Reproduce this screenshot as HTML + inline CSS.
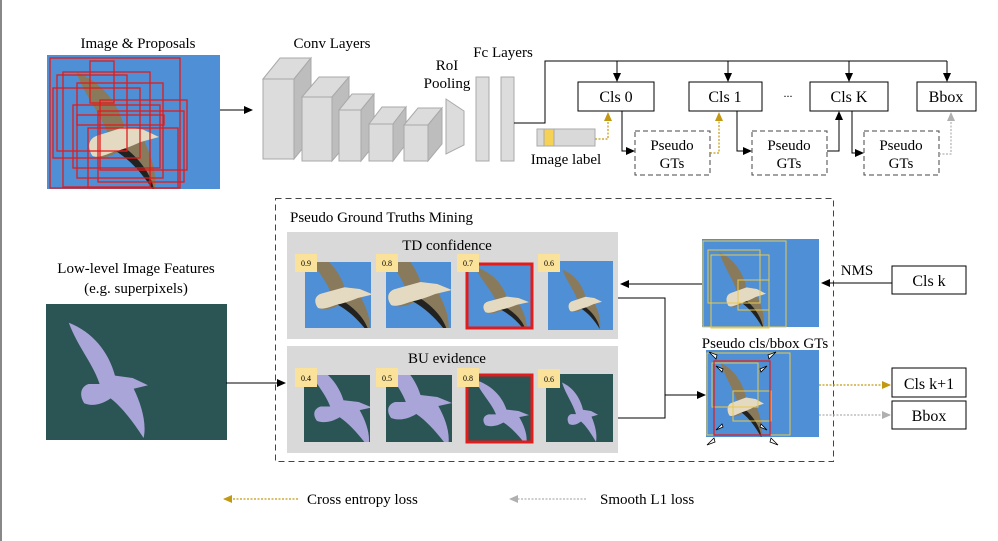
<!DOCTYPE html>
<html><head><meta charset="utf-8"><style>
html,body{margin:0;padding:0;background:#fff;}
svg{display:block;font-family:"Liberation Serif",serif;}
</style></head><body>
<svg width="998" height="541" viewBox="0 0 998 541" xmlns="http://www.w3.org/2000/svg">
<defs>
<marker id="ab" markerWidth="10" markerHeight="10" refX="8" refY="4" orient="auto" markerUnits="userSpaceOnUse"><path d="M0,0 L9,4 L0,8 Z" fill="#000"/></marker>
<marker id="ag" markerWidth="10" markerHeight="10" refX="8" refY="4" orient="auto" markerUnits="userSpaceOnUse"><path d="M0,0 L9,4 L0,8 Z" fill="#c29a12"/></marker>
<marker id="ay" markerWidth="10" markerHeight="10" refX="8" refY="4" orient="auto" markerUnits="userSpaceOnUse"><path d="M0,0 L9,4 L0,8 Z" fill="#b0b0b0"/></marker>
<path id="silp" d="M8,4 C30,12 44,28 50,48 L66,50 L80,56 L67,59 C74,72 79,88 76,100 C66,86 56,74 46,67 C38,72 30,74 22,71 C17,64 19,57 26,55 L36,55 C30,38 16,24 8,4 Z"/>
<g id="sil"><use href="#silp" fill="#a9a5d8"/></g>
<g id="photo">
<use href="#silp" fill="#8a7a5c"/>
<path d="M46,62 C60,70 74,85 76,100 C66,86 56,75 42,67 Z" fill="#222220"/>
<path d="M26,55 L50,48 L66,50 L80,56 L64,60 C55,64 48,66 40,68 C32,71 26,73 22,71 C17,64 19,57 26,55 Z" fill="#e4dac2"/>
</g>
</defs>
<rect x="0" y="0" width="2" height="541" fill="#888"/>

<!-- Image & proposals -->
<text x="138" y="48" font-size="15" text-anchor="middle">Image &amp; Proposals</text>
<svg x="47" y="55" width="173" height="134" viewBox="0 0 173 134">
<rect width="173" height="134" fill="#4f8fd6"/>
<use href="#photo" transform="translate(20,12) scale(1.15,1.25)"/>
</svg>
<g fill="none" stroke="#e21b1b" stroke-width="1.3">
<rect x="50" y="58" width="130" height="130"/><rect x="90" y="61" width="24" height="42"/>
<rect x="63" y="72" width="87" height="115"/><rect x="57" y="75" width="70" height="76"/>
<rect x="77" y="83" width="86" height="95"/><rect x="53" y="88" width="87" height="70"/>
<rect x="100" y="100" width="87" height="70"/><rect x="73" y="105" width="87" height="63"/>
<rect x="77" y="115" width="87" height="10"/><rect x="98" y="111" width="86" height="71"/>
<rect x="88" y="128" width="90" height="60"/>
</g>
<line x1="220" y1="110" x2="252" y2="110" stroke="#000" stroke-width="1" marker-end="url(#ab)"/>

<!-- Conv layers -->
<text x="332" y="48" font-size="15" text-anchor="middle">Conv Layers</text>
<g fill="#dcdcdc" stroke="#a9a9a9" stroke-width="1">
<rect x="263" y="79" width="31" height="80"/><path d="M263,79 L280,58 L311,58 L294,79 Z"/><path d="M294,79 L311,58 L311,138 L294,159 Z" fill="#bdbdbd"/>
<rect x="302" y="97" width="30" height="64"/><path d="M302,97 L319,77 L349,77 L332,97 Z"/><path d="M332,97 L349,77 L349,141 L332,161 Z" fill="#bdbdbd"/>
<rect x="339" y="110" width="22" height="51"/><path d="M339,110 L352,94 L374,94 L361,110 Z"/><path d="M361,110 L374,94 L374,145 L361,161 Z" fill="#bdbdbd"/>
<rect x="369" y="124" width="24" height="37"/><path d="M369,124 L382,107 L406,107 L393,124 Z"/><path d="M393,124 L406,107 L406,144 L393,161 Z" fill="#bdbdbd"/>
<rect x="404" y="125" width="24" height="36"/><path d="M404,125 L418,108 L442,108 L428,125 Z"/><path d="M428,125 L442,108 L442,144 L428,161 Z" fill="#bdbdbd"/>
<path d="M446,99 L464,111 L464,145 L446,154 Z"/>
<rect x="476" y="77" width="13" height="84"/><rect x="501" y="77" width="13" height="84"/>
</g>
<text x="447" y="70" font-size="15" text-anchor="middle">RoI</text>
<text x="447" y="88" font-size="15" text-anchor="middle">Pooling</text>
<text x="503" y="57" font-size="15" text-anchor="middle">Fc Layers</text>

<!-- heads -->
<polyline points="514,123 545,123 545,61 947,61" fill="none" stroke="#000" stroke-width="1"/>
<g stroke="#000" stroke-width="1" marker-end="url(#ab)">
<line x1="617" y1="61" x2="617" y2="81"/><line x1="728" y1="61" x2="728" y2="81"/>
<line x1="849" y1="61" x2="849" y2="81"/><line x1="947" y1="61" x2="947" y2="81"/>
</g>
<g fill="#fff" stroke="#000" stroke-width="1">
<rect x="578" y="82" width="76" height="29"/><rect x="689" y="82" width="73" height="29"/>
<rect x="810" y="82" width="78" height="29"/><rect x="917" y="82" width="59" height="29"/>
</g>
<g font-size="16" text-anchor="middle">
<text x="616" y="102">Cls 0</text><text x="725" y="102">Cls 1</text>
<text x="849" y="102">Cls K</text><text x="946" y="102">Bbox</text>
<text x="788" y="97" font-size="12">...</text>
</g>
<g fill="#fff" stroke="#444" stroke-width="1" stroke-dasharray="5,3">
<rect x="635" y="131" width="75" height="44"/><rect x="752" y="131" width="75" height="44"/><rect x="864" y="131" width="75" height="44"/>
</g>
<g font-size="15" text-anchor="middle">
<text x="672" y="150">Pseudo</text><text x="672" y="168">GTs</text>
<text x="789" y="150">Pseudo</text><text x="789" y="168">GTs</text>
<text x="901" y="150">Pseudo</text><text x="901" y="168">GTs</text>
</g>
<rect x="537" y="129" width="58" height="17" fill="#d9d9d9" stroke="#aaa"/>
<rect x="544" y="129" width="10" height="17" fill="#f5d155" stroke="#aaa"/>
<text x="566" y="164" font-size="15" text-anchor="middle">Image label</text>
<g fill="none" stroke-width="1.2" stroke-dasharray="2,1.5">
<polyline points="595,139 608,139 608,113" stroke="#c29a12" marker-end="url(#ag)"/>
<polyline points="710,153 719,153 719,113" stroke="#c29a12" marker-end="url(#ag)"/>
<polyline points="939,154 951,154 951,113" stroke="#b0b0b0" marker-end="url(#ay)"/>
</g>
<g fill="none" stroke="#000" stroke-width="1">
<polyline points="622,111 622,151 634,151" marker-end="url(#ab)"/>
<polyline points="737,111 737,151 751,151" marker-end="url(#ab)"/>
<polyline points="827,151 839,151 839,112" marker-end="url(#ab)"/>
<polyline points="852,111 852,153 863,153" marker-end="url(#ab)"/>
</g>

<!-- mining box -->
<rect x="275.5" y="198.5" width="558" height="263" fill="none" stroke="#444" stroke-dasharray="6,4"/>
<text x="290" y="222" font-size="15">Pseudo Ground Truths Mining</text>
<rect x="287" y="232" width="331" height="107" fill="#d9d9d9"/>
<rect x="287" y="346" width="331" height="107" fill="#d9d9d9"/>
<text x="447" y="250" font-size="15" text-anchor="middle">TD confidence</text>
<text x="447" y="363" font-size="15" text-anchor="middle">BU evidence</text>
<!-- TD images -->
<svg x="305" y="262" width="66" height="66" viewBox="0 0 66 66"><rect width="66" height="66" fill="#4f8fd6"/><use href="#photo" transform="translate(-8,-18) scale(0.95,0.9)"/></svg>
<svg x="386" y="262" width="65" height="66" viewBox="0 0 65 66"><rect width="65" height="66" fill="#4f8fd6"/><use href="#photo" transform="translate(-18,-28) scale(1.05,1.0)"/></svg>
<svg x="467" y="264" width="65" height="64" viewBox="0 0 65 64"><rect width="65" height="64" fill="#4f8fd6"/><use href="#photo" transform="translate(2,0) scale(0.75,0.68)"/></svg>
<rect x="467" y="264" width="65" height="64" fill="none" stroke="#e21b1b" stroke-width="3"/>
<svg x="548" y="261" width="65" height="69" viewBox="0 0 65 69"><rect width="65" height="69" fill="#4f8fd6"/><use href="#photo" transform="translate(10,6) scale(0.55,0.62)"/></svg>
<!-- BU images -->
<svg x="304" y="375" width="66" height="67" viewBox="0 0 66 67"><rect width="66" height="67" fill="#2b5455"/><use href="#sil" transform="translate(-8,-18) scale(0.95,0.9)"/></svg>
<svg x="386" y="375" width="66" height="67" viewBox="0 0 66 67"><rect width="66" height="67" fill="#2b5455"/><use href="#sil" transform="translate(-18,-28) scale(1.05,1.0)"/></svg>
<svg x="467" y="375" width="65" height="67" viewBox="0 0 65 67"><rect width="65" height="67" fill="#2b5455"/><use href="#sil" transform="translate(2,2) scale(0.75,0.68)"/></svg>
<rect x="467" y="375" width="65" height="67" fill="none" stroke="#e21b1b" stroke-width="3"/>
<svg x="546" y="374" width="67" height="68" viewBox="0 0 67 68"><rect width="67" height="68" fill="#2b5455"/><use href="#sil" transform="translate(12,6) scale(0.5,0.62)"/></svg>
<g fill="#fbe29a">
<rect x="295" y="254" width="22" height="18"/><rect x="376" y="254" width="22" height="18"/><rect x="457" y="254" width="22" height="18"/><rect x="538" y="254" width="22" height="18"/>
<rect x="295" y="368" width="22" height="19"/><rect x="376" y="368" width="22" height="19"/><rect x="457" y="368" width="22" height="19"/><rect x="538" y="369" width="22" height="19"/>
</g>
<g font-size="8" text-anchor="middle">
<text x="306" y="266">0.9</text><text x="387" y="266">0.8</text><text x="468" y="266">0.7</text><text x="549" y="266">0.6</text>
<text x="306" y="381">0.4</text><text x="387" y="381">0.5</text><text x="468" y="381">0.8</text><text x="549" y="382">0.6</text>
</g>

<!-- right images -->
<svg x="702" y="239" width="117" height="88" viewBox="0 0 117 88"><rect width="117" height="88" fill="#4f8fd6"/><use href="#photo" transform="translate(12,10) scale(0.65,0.8)"/></svg>
<g fill="none" stroke="#e8c84a" stroke-width="1"><rect x="703" y="241" width="83" height="86"/><rect x="708" y="250" width="52" height="53"/><rect x="711" y="255" width="58" height="73"/><rect x="738" y="280" width="31" height="30"/></g>
<text x="765" y="348" font-size="15" text-anchor="middle">Pseudo cls/bbox GTs</text>
<svg x="706" y="350" width="113" height="87" viewBox="0 0 113 87"><rect width="113" height="87" fill="#4f8fd6"/><use href="#photo" transform="translate(10,10) scale(0.6,0.78)"/></svg>
<g fill="none" stroke="#e8c84a" stroke-width="1"><rect x="707" y="353" width="83" height="82"/><rect x="712" y="363" width="46" height="44"/><rect x="733" y="391" width="38" height="30"/></g>
<rect x="714" y="361" width="56" height="74" fill="none" stroke="#e21b1b" stroke-width="1.2"/>
<g fill="#fff" stroke="#000" stroke-width="0.8">
<path d="M709,352 l7,7 l1,-4 z"/><path d="M776,352 l-7,7 l-1,-4 z"/>
<path d="M716,366 l6,6 l1,-3 z"/><path d="M767,366 l-6,6 l-1,-3 z"/>
<path d="M716,430 l6,-6 l1,3 z"/><path d="M767,430 l-6,-6 l-1,3 z"/>
<path d="M707,445 l7,-7 l1,4 z"/><path d="M778,445 l-7,-7 l-1,4 z"/>
</g>
<g fill="none" stroke="#000" stroke-width="1">
<line x1="702" y1="284" x2="621" y2="284" marker-end="url(#ab)"/>
<polyline points="618,298 665,298 665,418 618,418"/>
<line x1="665" y1="395" x2="705" y2="395" marker-end="url(#ab)"/>
<line x1="892" y1="283" x2="822" y2="283" marker-end="url(#ab)"/>
</g>
<text x="857" y="275" font-size="15" text-anchor="middle">NMS</text>
<g fill="#fff" stroke="#000" stroke-width="1">
<rect x="892" y="266" width="74" height="28"/><rect x="892" y="368" width="74" height="29"/><rect x="892" y="401" width="74" height="28"/>
</g>
<g font-size="16" text-anchor="middle">
<text x="929" y="286">Cls k</text><text x="929" y="389">Cls k+1</text><text x="929" y="421">Bbox</text>
</g>
<line x1="819" y1="385" x2="890" y2="385" stroke="#c29a12" stroke-width="1.2" stroke-dasharray="2,1.5" marker-end="url(#ag)"/>
<line x1="819" y1="415" x2="890" y2="415" stroke="#b0b0b0" stroke-width="1.2" stroke-dasharray="2,1.5" marker-end="url(#ay)"/>

<!-- low-level -->
<text x="136" y="273" font-size="15" text-anchor="middle">Low-level Image Features</text>
<text x="136" y="293" font-size="15" text-anchor="middle">(e.g. superpixels)</text>
<svg x="46" y="304" width="181" height="136" viewBox="0 0 181 136"><rect width="181" height="136" fill="#2b5455"/><use href="#sil" transform="translate(14,14) scale(1.1,1.2)"/></svg>
<line x1="226" y1="383" x2="285" y2="383" stroke="#000" stroke-width="1" marker-end="url(#ab)"/>

<!-- legend -->
<line x1="298" y1="499" x2="224" y2="499" stroke="#c29a12" stroke-width="1.2" stroke-dasharray="2,1.5" marker-end="url(#ag)"/>
<text x="307" y="504" font-size="15">Cross entropy loss</text>
<line x1="586" y1="499" x2="510" y2="499" stroke="#b0b0b0" stroke-width="1.2" stroke-dasharray="2,1.5" marker-end="url(#ay)"/>
<text x="600" y="504" font-size="15">Smooth L1 loss</text>
</svg>
</body></html>
